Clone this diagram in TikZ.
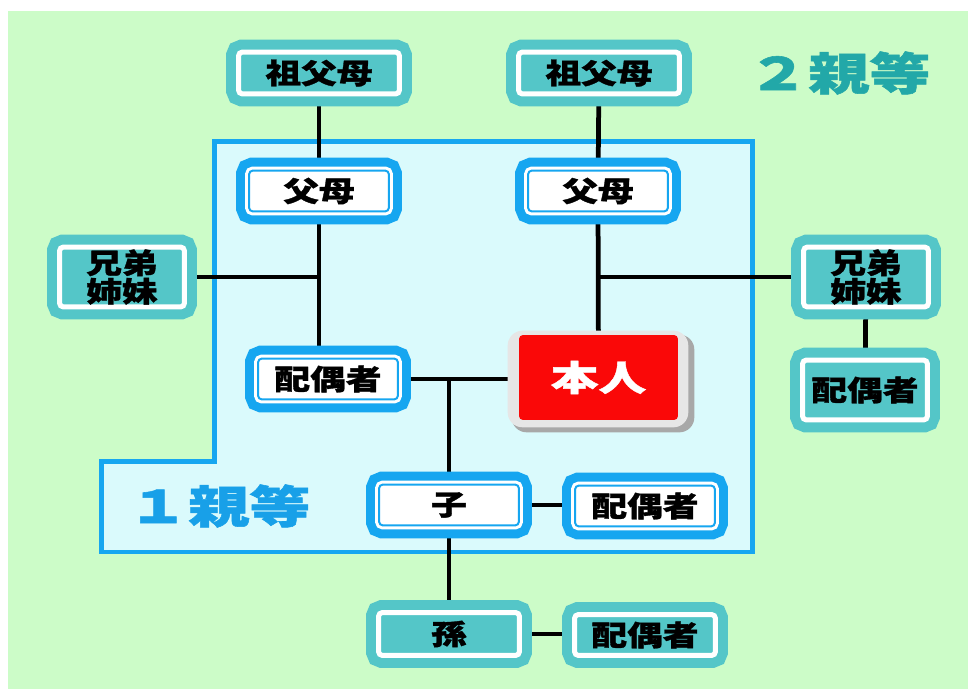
\documentclass[tikz,border=0pt]{standalone}
\usepackage{fontspec}
\usetikzlibrary{calc,backgrounds}

\newfontfamily\jpfont[FakeStretch=1.27, BoldFeatures={FakeBold=1.2}]{Noto Sans CJK JP}
\newfontfamily\jpwide[FakeStretch=1.36, BoldFeatures={FakeBold=1.2}]{Noto Sans CJK JP}

\definecolor{bggreen}{RGB}{204,252,200}
\definecolor{firstfill}{RGB}{218,250,252}
\definecolor{firstblue}{RGB}{22,166,240}
\definecolor{firsttext}{RGB}{24,160,232}
\definecolor{tealbox}{RGB}{84,198,200}
\definecolor{tealtext}{RGB}{34,168,168}
\definecolor{selfred}{RGB}{250,8,8}
\definecolor{rimgray}{RGB}{230,230,230}
\definecolor{shadowgray}{RGB}{168,168,168}

\tikzset{
  secondbox/.style={rectangle, rounded corners=0.08cm, fill=tealbox, draw=white,
    line width=0.1cm, preaction={draw=tealbox, line width=0.5cm},
    inner sep=0pt, align=center, font=\jpfont\bfseries\fontsize{16}{14.5}\selectfont},
  firstbox/.style={rectangle, rounded corners=0.08cm, fill=white, draw=firstblue,
    line width=0.04cm, preaction={draw=firstblue, line width=0.52cm},
    preaction={draw=white, line width=0.16cm}, inner sep=0pt,
    minimum width=2.8cm, minimum height=0.82cm,
    font=\jpfont\bfseries\fontsize{16}{14.5}\selectfont},
  selfbox/.style={rectangle, rounded corners=0.08cm, fill=selfred, text=white,
    inner sep=0pt, minimum width=3.18cm, minimum height=1.7cm,
    font=\jpwide\bfseries\fontsize{20}{22}\selectfont},
  degree/.style={font=\jpwide\bfseries\fontsize{25.5}{30}\selectfont},
  link/.style={line width=0.095cm, black},
}

\begin{document}
\begin{tikzpicture}[x=0.02cm, y=-0.02cm]
    \useasboundingbox (0,0) rectangle (968,689);

    % Boxes
    \node[secondbox, minimum width=3.22cm, minimum height=0.84cm] (grandL) at (319,73) {祖父母};
    \node[secondbox, minimum width=3.22cm, minimum height=0.84cm] (grandR) at (599,73) {祖父母};
    \node[firstbox] (parentL) at (319,191) {父母};
    \node[firstbox] (parentR) at (598,191) {父母};
    \node[secondbox, minimum width=2.5cm, minimum height=1.2cm] (sibL) at (122,277) {兄弟\\姉妹};
    \node[secondbox, minimum width=2.5cm, minimum height=1.2cm] (sibR) at (866,277) {兄弟\\姉妹};
    \node[secondbox, minimum width=2.5cm, minimum height=1.2cm] (sibspouse) at (865,390) {配偶者};
    \node[firstbox] (spouse) at (328,379) {配偶者};
    \node[selfbox] (self) at (598.5,377.5) {本人};
    \node[firstbox] (child) at (449,505) {子};
    \node[firstbox] (childspouse) at (645,506) {配偶者};
    \node[secondbox, minimum width=2.82cm, minimum height=0.86cm] (grandchild) at (449,634) {孫};
    \node[secondbox, minimum width=2.82cm, minimum height=0.82cm] (gcspouse) at (645,635) {配偶者};

    % Degree labels
    \node[degree, text=tealtext] (second) at (839,73) {２親等};
    \node[degree, text=firsttext] (first) at (219,506) {１親等};

    \begin{scope}[on background layer]
        % Backgrounds
        \fill[bggreen] (8,11) rectangle (968,689);
        \filldraw[fill=firstfill, draw=firstblue, line width=0.1cm]
            (214,142) -- (752,142) -- (752,552) -- (101,552) -- (101,462) -- (214,462) -- cycle;

        % Lines
        \draw[link] (grandL) -- (parentL);
        \draw[link] (grandR) -- (parentR);
        \draw[link] (parentL) -- (parentL |- spouse);
        \draw[link] (sibL) -- (sibL -| parentL);
        \draw[link] (parentR) -- (self);
        \draw[link] (sibR) -- (sibR -| parentR);
        \draw[link] (sibR) -- (sibspouse);
        \draw[link] (spouse) -- (spouse -| self);
        \draw[link] (spouse -| child) -- (child);
        \draw[link] (child) -- (child -| childspouse);
        \draw[link] (child) -- (grandchild);
        \draw[link] (grandchild) -- (grandchild -| gcspouse);

        % Rim behind 本人
        \fill[shadowgray, rounded corners=0.3cm] ($(self.north west)+(-7,0)$) rectangle ($(self.south east)+(16,12)$);
        \fill[rimgray, rounded corners=0.3cm] ($(self.north west)+(-11,-4)$) rectangle ($(self.south east)+(10,7)$);
    \end{scope}
\end{tikzpicture}
\end{document}
